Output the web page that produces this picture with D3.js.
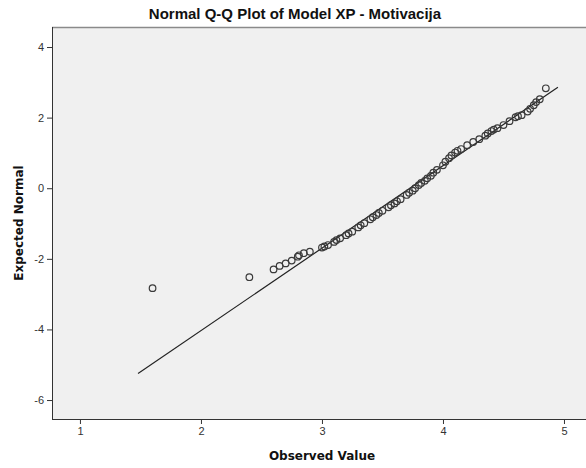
<!DOCTYPE html>
<html>
<head>
<meta charset="utf-8">
<script src="https://cdn.jsdelivr.net/npm/d3@7"></script>
<style>
  html, body { margin: 0; padding: 0; background: #fff; }
  svg { display: block; font-family: "Liberation Sans", Arial, sans-serif; }
</style>
</head>
<body>
<svg id="chart" width="586" height="468"></svg>
<script>
// ---- data ----
const titleText = "Normal Q-Q Plot of Model XP - Motivacija";
const xLabel = "Observed Value";
const yLabel = "Expected Normal";
const xTicks = [1, 2, 3, 4, 5];
const yTicks = [4, 2, 0, -2, -4, -6];

const observed = [1.6, 2.4, 2.6, 2.65, 2.7, 2.75, 2.8, 2.81, 2.85, 2.9, 3.0, 3.02, 3.05, 3.1, 3.12, 3.15, 3.2, 3.22, 3.25,
  3.3, 3.32, 3.35, 3.4, 3.42, 3.45, 3.47, 3.5, 3.55, 3.57, 3.6, 3.62, 3.65, 3.7, 3.72, 3.75, 3.77, 3.8, 3.82, 3.85, 3.87,
  3.9, 3.92, 3.95, 4.0, 4.02, 4.05, 4.07, 4.1, 4.12, 4.15,
  4.2, 4.25, 4.3, 4.35, 4.37, 4.4, 4.42, 4.45, 4.5, 4.55, 4.6, 4.62, 4.65, 4.7, 4.72, 4.75, 4.77, 4.8, 4.85];
const expected = [-2.83, -2.52, -2.30, -2.20, -2.13, -2.05, -1.94, -1.90, -1.84, -1.80, -1.68, -1.65, -1.61, -1.52, -1.47, -1.42, -1.33, -1.28, -1.23,
  -1.11, -1.05, -0.99, -0.88, -0.82, -0.76, -0.70, -0.64, -0.54, -0.48, -0.43, -0.37, -0.31, -0.19, -0.13, -0.07, 0.00, 0.09, 0.15, 0.21, 0.28,
  0.35, 0.44, 0.52, 0.65, 0.75, 0.85, 0.93, 1.01, 1.06, 1.11,
  1.22, 1.31, 1.39, 1.49, 1.55, 1.62, 1.66, 1.70, 1.79, 1.90, 2.01, 2.04, 2.07, 2.17, 2.25, 2.35, 2.44, 2.52, 2.83];

// reference line end points (observed, expected)
const lineX = [1.48, 4.95];
const lineY = [-5.25, 2.86];

// ---- layout ----
const W = 586, H = 468;
const plot = { left: 52, right: 586, top: 27, bottom: 419 };

const x = d3.scaleLinear().domain([0.769, 5.182]).range([plot.left, plot.right]);
const y = d3.scaleLinear().domain([-6.537, 4.567]).range([plot.bottom, plot.top]);

const svg = d3.select("#chart");

svg.append("rect").attr("x", 0).attr("y", 0).attr("width", W).attr("height", H).attr("fill", "#fff");

svg.append("rect")
  .attr("x", plot.left).attr("y", plot.top)
  .attr("width", plot.right - plot.left).attr("height", plot.bottom - plot.top)
  .attr("fill", "#f0f0f0");

// top border
svg.append("line")
  .attr("x1", plot.left).attr("x2", plot.right)
  .attr("y1", plot.top + 0.5).attr("y2", plot.top + 0.5)
  .attr("stroke", "#8a8a8a").attr("stroke-width", 1.5);

// axes
const xAxis = d3.axisBottom(x).tickValues(xTicks).tickSize(5).tickPadding(3).tickFormat(d3.format("d"));
const yAxis = d3.axisLeft(y).tickValues(yTicks).tickSize(5).tickPadding(3).tickFormat(d => d < 0 ? "-" + Math.abs(d) : d);

const gx = svg.append("g").attr("transform", `translate(0,${plot.bottom})`).call(xAxis);
const gy = svg.append("g").attr("transform", `translate(${plot.left},0)`).call(yAxis);

[gx, gy].forEach(g => {
  g.select(".domain").remove();
  g.selectAll(".tick line").attr("stroke", "#333").attr("stroke-width", 1);
  g.selectAll(".tick text").attr("fill", "#333").style("font-size", "11px")
    .style("font-family", "'Liberation Sans', Arial, sans-serif");
});

// axis lines
svg.append("line")
  .attr("x1", plot.left + 0.5).attr("x2", plot.left + 0.5)
  .attr("y1", plot.top).attr("y2", plot.bottom)
  .attr("stroke", "#333").attr("stroke-width", 1);
svg.append("line")
  .attr("x1", plot.left).attr("x2", plot.right)
  .attr("y1", plot.bottom + 0.5).attr("y2", plot.bottom + 0.5)
  .attr("stroke", "#333").attr("stroke-width", 1);

// reference line
svg.append("line")
  .attr("x1", x(lineX[0])).attr("y1", y(lineY[0]))
  .attr("x2", x(lineX[1])).attr("y2", y(lineY[1]))
  .attr("stroke", "#222").attr("stroke-width", 1.2);

// points
const pts = observed.map((o, i) => ({ o, e: expected[i] }));
svg.append("g").selectAll("circle").data(pts).join("circle")
  .attr("cx", d => x(d.o)).attr("cy", d => y(d.e)).attr("r", 3.3)
  .attr("fill", "none").attr("stroke", "#3a3a3a").attr("stroke-width", 1.2);

// title
svg.append("text")
  .attr("x", W / 2 + 2).attr("y", 19)
  .attr("text-anchor", "middle")
  .style("font-size", "15px").style("font-weight", "bold").attr("fill", "#111")
  .text(titleText);

// axis titles
svg.append("text")
  .attr("x", (plot.left + plot.right) / 2 + 3).attr("y", 460)
  .attr("text-anchor", "middle")
  .style("font-family", "'DejaVu Sans', Verdana, sans-serif")
  .style("font-size", "12px").style("font-weight", "bold").attr("fill", "#111")
  .text(xLabel);

svg.append("text")
  .attr("transform", `translate(23,${(plot.top + plot.bottom) / 2}) rotate(-90)`)
  .attr("text-anchor", "middle")
  .style("font-family", "'DejaVu Sans', Verdana, sans-serif")
  .style("font-size", "12px").style("font-weight", "bold").attr("fill", "#111")
  .text(yLabel);
</script>
</body>
</html>
